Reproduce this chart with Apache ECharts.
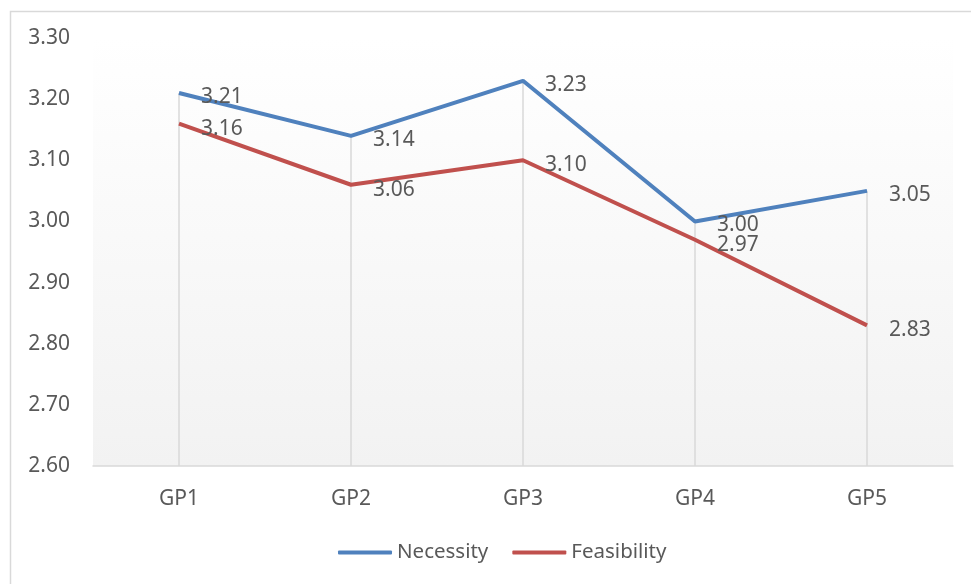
<!DOCTYPE html>
<html>
<head>
<meta charset="utf-8">
<script src="https://cdn.jsdelivr.net/npm/echarts@6/dist/echarts.min.js"></script>
<style>
  html, body { margin: 0; padding: 0; background: #fff; }
  #chart { width: 971px; height: 584px; }
</style>
</head>
<body>
<div id="chart"></div>
<script>
const categories = ['GP1', 'GP2', 'GP3', 'GP4', 'GP5']
const necessity = [3.21, 3.14, 3.23, 3.00, 3.05]
const feasibility = [3.16, 3.06, 3.10, 2.97, 2.83]
const yMin = 2.6
const yMax = 3.3

const textColor = '#595959'
const font = 'Noto Sans'

// drop lines from the highest point down to the axis
const dropLines = categories.map((c, i) => [
    { coord: [c, yMin] },
    { coord: [c, Math.max(necessity[i], feasibility[i])] }
])

const chart = echarts.init(document.getElementById('chart'))
chart.setOption({
    animation: false,
    textStyle: { fontFamily: font },
    graphic: [{
        type: 'rect',
        left: 8, top: 9,
        shape: { width: 1000, height: 600 },
        style: { fill: 'none', stroke: '#d9d9d9', lineWidth: 1.5 },
        silent: true,
        z: -10
    }],
    grid: {
        left: 93, right: 18, top: 38, bottom: 118,
        show: true,
        borderWidth: 0,
        backgroundColor: new echarts.graphic.LinearGradient(0, 0, 0, 1, [
            { offset: 0, color: '#ffffff' },
            { offset: 1, color: '#f2f2f2' }
        ])
    },
    legend: {
        data: ['Necessity', 'Feasibility'],
        left: 333,
        top: 537,
        icon: 'roundRect',
        itemWidth: 54,
        itemHeight: 4,
        itemGap: 24,
        textStyle: { color: textColor, fontSize: 20.5, fontFamily: font }
    },
    xAxis: {
        type: 'category',
        data: categories,
        boundaryGap: true,
        axisLine: { lineStyle: { color: '#d9d9d9', width: 1.5 } },
        axisTick: { show: false },
        axisLabel: { color: textColor, fontSize: 21, margin: 23, fontFamily: font }
    },
    yAxis: {
        type: 'value',
        min: yMin,
        max: yMax,
        interval: 0.1,
        axisLine: { show: false },
        axisTick: { show: false },
        splitLine: { show: false },
        axisLabel: {
            color: textColor, fontSize: 21, margin: 23, fontFamily: font,
            padding: [4, 0, 0, 0],
            formatter: v => v.toFixed(2)
        }
    },
    series: [{
        name: 'Feasibility',
        type: 'line',
        data: feasibility,
        symbol: 'circle',
        symbolSize: 0.1,
        showSymbol: true,
        lineStyle: { color: '#c0504d', width: 4 },
        itemStyle: { color: '#c0504d' },
        label: {
            show: true, position: 'right', distance: 22, offset: [0, 5],
            color: textColor, fontSize: 21, fontFamily: font,
            formatter: p => p.value.toFixed(2)
        }
    }, {
        name: 'Necessity',
        type: 'line',
        data: necessity,
        symbol: 'circle',
        symbolSize: 0.1,
        showSymbol: true,
        lineStyle: { color: '#4f81bd', width: 4 },
        itemStyle: { color: '#4f81bd' },
        label: {
            show: true, position: 'right', distance: 22, offset: [0, 4],
            color: textColor, fontSize: 21, fontFamily: font,
            formatter: p => p.value.toFixed(2)
        },
        markLine: {
            silent: true,
            symbol: 'none',
            label: { show: false },
            lineStyle: { color: '#d9d9d9', width: 1.5, type: 'solid' },
            z: 0,
            data: dropLines
        }
    }]
})
</script>
</body>
</html>
